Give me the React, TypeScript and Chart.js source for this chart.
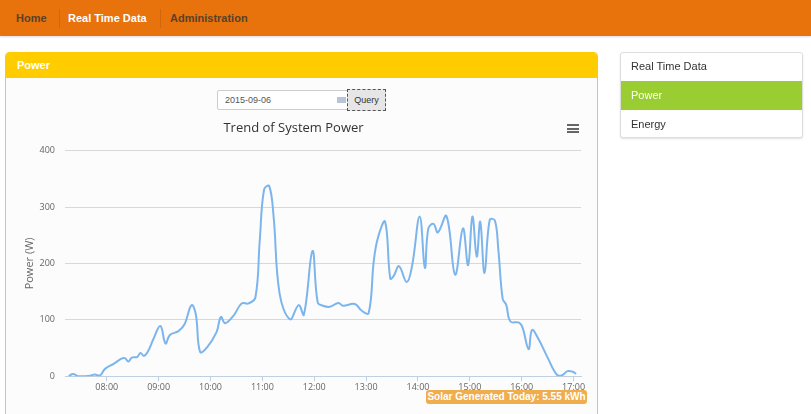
import React, { useEffect, useRef } from "react";
import { Chart, registerables } from "chart.js";

Chart.register(...registerables);

const TIMES = [
  "07:16", "07:21", "07:27", "07:35", "07:41", "07:46", "07:52", "07:58",
  "08:08", "08:17", "08:21", "08:25", "08:29", "08:35", "08:39", "08:43", "08:48", "08:54",
  "09:02", "09:08", "09:13", "09:23", "09:30", "09:38", "09:43", "09:48", "09:56",
  "10:07", "10:12", "10:17", "10:27", "10:36", "10:44", "10:52", "10:57",
  "11:02", "11:08", "11:13", "11:20", "11:32", "11:42", "11:48", "11:58",
  "12:04", "12:10", "12:18", "12:28", "12:33", "12:47", "12:55",
  "13:03", "13:09", "13:14", "13:22", "13:28", "13:32", "13:38", "13:47", "13:53",
  "14:02", "14:08", "14:12", "14:18", "14:23", "14:33", "14:43", "14:52", "14:58",
  "15:03", "15:08", "15:12", "15:17", "15:23", "15:29", "15:33", "15:38", "15:42", "15:47", "15:57",
  "16:01", "16:08", "16:12", "16:20", "16:30", "16:41", "16:47", "16:53", "16:59",
  "17:03",
];

const POWER = [
  0, 4, 0, 0, 1, 3, 1, 13,
  22, 31, 32, 26, 33, 34, 41, 36, 45, 66,
  89, 58, 73, 80, 92, 126, 110, 43, 51,
  78, 105, 94, 108, 129, 129, 140, 241,
  331, 337, 283, 146, 101, 126, 109, 222,
  131, 125, 123, 130, 125, 128, 116,
  112, 206, 247, 274, 173, 178, 195, 167, 194,
  283, 192, 262, 270, 255, 284, 180, 262, 197,
  283, 212, 274, 183, 277, 276, 224, 137, 127, 97, 95,
  86, 48, 82, 64, 33, 2, 2, 9, 8,
  4,
];

const HOUR_TICKS = ["08:00", "09:00", "10:00", "11:00", "12:00", "13:00", "14:00", "15:00", "16:00", "17:00"];
const Y_TICKS = [0, 100, 200, 300, 400];
const X_MIN = "07:11.7";
const X_MAX = "17:08.6";

const TITLE = "Trend of System Power";
const Y_TITLE = "Power (W)";
const QUERY_DATE = "2015-09-06";
const BADGE = "Solar Generated Today: 5.55 kWh";

const toMin = (s: string) => {
  const [h, m] = s.split(":");
  return parseInt(h, 10) * 60 + parseFloat(m);
};
const fmt = (v: number) => {
  const h = Math.floor(v / 60);
  const m = Math.round(v - h * 60);
  return String(h).padStart(2, "0") + ":" + String(m).padStart(2, "0");
};

const FONT = "'Open Sans', 'DejaVu Sans', sans-serif";
const ARIAL = "'Liberation Sans', Arial, sans-serif";

function PowerChart() {
  const ref = useRef<HTMLCanvasElement | null>(null);
  useEffect(() => {
    if (!ref.current) return;
    const data = TIMES.map((t, i) => ({ x: toMin(t), y: POWER[i] }));
    const chart = new Chart(ref.current, {
      type: "line",
      data: {
        datasets: [
          {
            data,
            borderColor: "#7cb5ec",
            borderWidth: 2,
            pointRadius: 0,
            tension: 0.4,
            fill: false,
          },
        ],
      },
      options: {
        animation: false,
        responsive: false,
        layout: { padding: { left: 0, right: 16, top: 0, bottom: 9 } },
        plugins: {
          legend: { display: false },
          tooltip: { enabled: false },
          title: {
            display: true,
            text: TITLE,
            color: "#333333",
            font: { family: FONT, size: 13, weight: "normal" },
            padding: { top: 7, bottom: 15 },
          },
        },
        scales: {
          x: {
            type: "linear",
            min: toMin(X_MIN),
            max: toMin(X_MAX),
            afterBuildTicks: (scale: any) => {
              scale.ticks = HOUR_TICKS.map((t) => ({ value: toMin(t) }));
            },
            ticks: {
              callback: (v: any) => fmt(Number(v)),
              color: "#666666",
              font: { family: FONT, size: 9 },
              padding: 1,
              maxRotation: 0,
              autoSkip: false,
            },
            grid: {
              drawOnChartArea: false,
              drawTicks: true,
              tickLength: 5,
              color: "#c0d0e0",
            },
            border: { display: true, color: "#c0d0e0", width: 1 },
          },
          y: {
            min: 0,
            max: 400,
            afterBuildTicks: (scale: any) => {
              scale.ticks = Y_TICKS.map((v) => ({ value: v }));
            },
            afterFit: (scale: any) => {
              scale.width = 59;
            },
            ticks: {
              color: "#666666",
              font: { family: FONT, size: 9 },
              padding: 10,
            },
            grid: {
              drawTicks: false,
              color: (ctx: any) => (ctx.tick && ctx.tick.value === 0 ? "rgba(0,0,0,0)" : "#d8d8d8"),
            },
            border: { display: false },
            title: {
              display: true,
              text: Y_TITLE,
              color: "#666666",
              font: { family: FONT, size: 11 },
              padding: { top: 17, bottom: 0 },
            },
          },
        },
      },
    } as any);
    return () => chart.destroy();
  }, []);
  return <canvas ref={ref} width={591} height={290} style={{ position: "absolute", left: 6, top: 113 }} />;
}

export default function App() {
  const navItem = (text: string, left: number, color: string) => (
    <div style={{ position: "absolute", left, top: 12, fontFamily: ARIAL, fontWeight: "bold", fontSize: 11, color }}>{text}</div>
  );
  const listItem = (text: string, top: number, active: boolean) => (
    <div
      style={{
        position: "absolute",
        left: 0,
        top,
        width: 183,
        height: 29,
        background: active ? "#9acd32" : "transparent",
        color: active ? "#ffffff" : "#333333",
        fontFamily: ARIAL,
        fontSize: 11,
        lineHeight: "29px",
        paddingLeft: 10,
        boxSizing: "border-box",
      }}
    >
      {text}
    </div>
  );
  return (
    <div style={{ position: "fixed", left: 0, top: 0, width: 811, height: 414, background: "#ffffff", overflow: "hidden" }}>
      {/* nav */}
      <div style={{ position: "absolute", left: 0, top: 0, width: 811, height: 36, background: "#e8720c", boxShadow: "0 1px 2px rgba(0,0,0,0.15)" }}>
        {navItem("Home", 16, "#5a4228")}
        <div style={{ position: "absolute", left: 59, top: 9, width: 1, height: 19, background: "#d4650a" }} />
        {navItem("Real Time Data", 68, "#ffffff")}
        <div style={{ position: "absolute", left: 160, top: 9, width: 1, height: 19, background: "#d4650a" }} />
        {navItem("Administration", 170, "#5a4228")}
      </div>
      {/* panel */}
      <div
        style={{
          position: "absolute",
          left: 5,
          top: 52,
          width: 593,
          height: 380,
          border: "1px solid #ffcc00",
          borderRadius: 4,
          background: "#fcfcfc",
          boxSizing: "border-box",
          overflow: "hidden",
        }}
      >
        <div style={{ height: 25, background: "#ffcc00", color: "#ffffff", fontFamily: ARIAL, fontWeight: "bold", fontSize: 11, lineHeight: "25px", paddingLeft: 11 }}>
          Power
        </div>
      </div>
      {/* date input */}
      <div
        style={{
          position: "absolute",
          left: 217,
          top: 90,
          width: 131,
          height: 20,
          border: "1px solid #cccccc",
          borderRadius: 2,
          background: "#ffffff",
          boxSizing: "border-box",
          fontFamily: ARIAL,
          fontSize: 9,
          color: "#555555",
          lineHeight: "18px",
          paddingLeft: 7,
        }}
      >
        {QUERY_DATE}
        <div style={{ position: "absolute", left: 119, top: 6, width: 9, height: 6, background: "#b8c4d8" }} />
      </div>
      <div
        style={{
          position: "absolute",
          left: 347,
          top: 89,
          width: 39,
          height: 22,
          border: "1px dashed #555555",
          background: "#e6e6e6",
          boxSizing: "border-box",
          fontFamily: ARIAL,
          fontSize: 9,
          color: "#333333",
          lineHeight: "20px",
          textAlign: "center",
        }}
      >
        Query
      </div>
      <PowerChart />
      {/* menu icon */}
      <div style={{ position: "absolute", left: 567, top: 124, width: 12, height: 2, background: "#666666" }} />
      <div style={{ position: "absolute", left: 567, top: 128, width: 12, height: 2, background: "#666666" }} />
      <div style={{ position: "absolute", left: 567, top: 131, width: 12, height: 2, background: "#666666" }} />
      {/* badge */}
      <div
        style={{
          position: "absolute",
          left: 426,
          top: 390,
          width: 161,
          height: 14,
          background: "#f0ad4e",
          borderRadius: 3,
          color: "#ffffff",
          fontFamily: ARIAL,
          fontWeight: "bold",
          fontSize: 10,
          lineHeight: "14px",
          textAlign: "center",
          whiteSpace: "nowrap",
        }}
      >
        {BADGE}
      </div>
      {/* right list */}
      <div
        style={{
          position: "absolute",
          left: 620,
          top: 52,
          width: 183,
          height: 86,
          border: "1px solid #dddddd",
          borderRadius: 3,
          background: "#ffffff",
          boxShadow: "0 1px 2px rgba(0,0,0,0.12)",
          boxSizing: "border-box",
          overflow: "hidden",
        }}
      >
        {listItem("Real Time Data", -1, false)}
        {listItem("Power", 28, true)}
        {listItem("Energy", 57, false)}
      </div>
    </div>
  );
}
